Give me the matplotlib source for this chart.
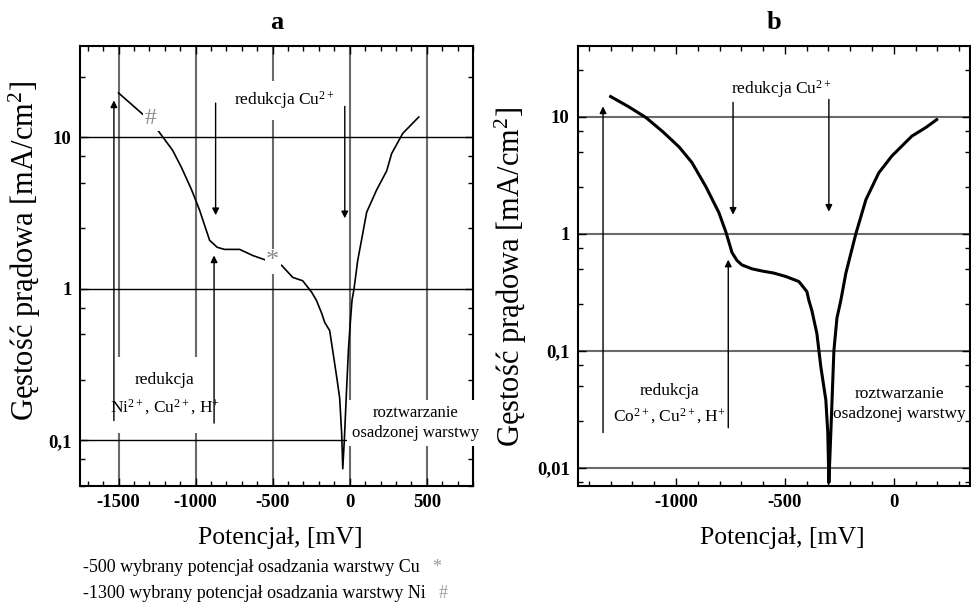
import numpy as np
import matplotlib.pyplot as plt
from matplotlib.ticker import LogLocator, MultipleLocator, FuncFormatter, NullFormatter

plt.rcParams['font.family'] = ['Liberation Serif', 'DejaVu Serif']
plt.rcParams['mathtext.fontset'] = 'custom'
plt.rcParams['mathtext.rm'] = 'Liberation Serif'
plt.rcParams['mathtext.it'] = 'Liberation Serif:italic'
plt.rcParams['mathtext.bf'] = 'Liberation Serif:bold'
plt.rcParams['axes.unicode_minus'] = False

# panel a: Ni/Cu bath (potential [mV], current density [mA/cm2])
pot_a = [-1500, -1350, -1290, -1227, -1149, -1091, -1026, -974, -909, -860, -812,
         -714, -630, -539, -500, -442, -370, -305, -247, -216, -182, -162, -130,
         -110, -84, -65, -52, -45, -35, -20, -8, 5, 15, 28, 52, 84, 110, 175,
         240, 272, 344, 448]
cur_a = [19.6, 14.4, 12.8, 10.5, 8.2, 6.3, 4.5, 3.3, 2.09, 1.88, 1.82,
         1.82, 1.66, 1.54, 1.50, 1.43, 1.19, 1.13, 0.95, 0.84, 0.69, 0.60, 0.53,
         0.39, 0.26, 0.19, 0.11, 0.065, 0.10, 0.22, 0.40, 0.62, 0.84, 1.0, 1.54, 2.3, 3.2, 4.5,
         6.0, 7.8, 10.6, 13.6]

# panel b: Co/Cu bath
pot_b = [-1300, -1220, -1138, -1060, -986, -927, -862, -803, -770, -743, -720, -697,
         -650, -606, -550, -495, -436, -399, -390, -376, -353, -335, -312, -303,
         -298, -289, -275, -261, -243, -220, -174, -128, -69, -9, 83, 147, 197]
cur_b = [14.8, 12.2, 9.8, 7.4, 5.5, 4.05, 2.5, 1.51, 1.02, 0.69, 0.59, 0.54,
         0.50, 0.48, 0.46, 0.43, 0.39, 0.32, 0.27, 0.22, 0.14, 0.073, 0.038, 0.02,
         0.0075, 0.02, 0.1, 0.19, 0.27, 0.46, 1.0, 1.95, 3.3, 4.6, 6.8, 8.05, 9.4]

# arrows: x, tail, tip
arrows_a = [(-1530, 0.135, 17.5), (-880, 0.13, 1.66), (-870, 16.8, 3.06), (-32, 16.0, 2.92)]
arrows_b = [(-1335, 0.02, 12.2), (-760, 0.022, 0.6), (-738, 13.2, 1.45), (-298, 14.0, 1.54)]

star_pt = (-500, 1.52)
hash_pt = (-1290, 13.3)


def comma_fmt(v, pos):
    return ('%g' % v).replace('.', ',')


def style_axes(ax, xlim, ylim):
    ax.set_yscale('log')
    ax.set_xlim(*xlim)
    ax.set_ylim(*ylim)
    ax.xaxis.set_major_locator(MultipleLocator(500))
    ax.xaxis.set_minor_locator(MultipleLocator(100))
    ax.yaxis.set_major_locator(LogLocator(base=10))
    ax.yaxis.set_minor_locator(LogLocator(base=10, subs=[2.5, 5, 7.5]))
    ax.yaxis.set_major_formatter(FuncFormatter(comma_fmt))
    ax.yaxis.set_minor_formatter(NullFormatter())
    ax.tick_params(which='both', direction='in', top=True, right=True, width=1.0)
    ax.tick_params(which='major', length=6, labelsize=13.5, pad=6)
    ax.tick_params(which='minor', length=3.5)
    for lab in ax.get_xticklabels() + ax.get_yticklabels():
        lab.set_fontweight('bold')
    for sp in ax.spines.values():
        sp.set_linewidth(1.5)
    ax.set_axisbelow(True)
    ax.set_xlabel('Potencjał, [mV]', fontsize=18.5)
    ax.set_ylabel('Gęstość prądowa [mA/cm$^2$]', fontsize=22)


def draw_arrows(ax, arrows):
    for x, y0, y1 in arrows:
        ax.annotate('', xy=(x, y1), xytext=(x, y0), zorder=6,
                    arrowprops=dict(arrowstyle='-|>', color='black', lw=1.0,
                                    shrinkA=0, shrinkB=0, mutation_scale=10))


fig = plt.figure(figsize=(9.71, 6.03), dpi=100)
ax_a = fig.add_axes([80 / 971, 1 - 486 / 603, 393 / 971, 440 / 603])
ax_b = fig.add_axes([578 / 971, 1 - 486 / 603, 392 / 971, 440 / 603])

box = dict(facecolor='white', edgecolor='none', boxstyle='square,pad=0.5')

# ---- panel a
style_axes(ax_a, (-1750, 800), (0.05, 40))
ax_a.grid(axis='x', which='major', color='#6a6a6a', lw=1.5)
ax_a.grid(axis='y', which='major', color='black', lw=1.0)
ax_a.plot(pot_a, cur_a, color='black', lw=1.2, zorder=3)
draw_arrows(ax_a, arrows_a)
ax_a.text(-425, 17.5, 'redukcja Cu$^{2+}$', fontsize=12.5, ha='center', va='center',
          bbox=box, zorder=4)
ax_a.text(-1200, 0.2, 'redukcja\nNi$^{2+}$, Cu$^{2+}$, H$^{+}$', fontsize=12.5,
          ha='center', va='center', linespacing=1.6, zorder=4,
          bbox=dict(facecolor='white', edgecolor='none', boxstyle='square,pad=0.9'))
ax_a.text(425, 0.13, 'roztwarzanie\nosadzonej warstwy', fontsize=12, ha='center',
          va='center', linespacing=1.3, zorder=4, clip_on=False,
          bbox=dict(facecolor='white', edgecolor='none', boxstyle='square,pad=0.3'))
ax_a.text(star_pt[0], star_pt[1], '*', fontsize=19, color='#8c8c8c', ha='center',
          va='center', zorder=4,
          bbox=dict(facecolor='white', edgecolor='none', boxstyle='square,pad=0.05'))
ax_a.text(hash_pt[0], hash_pt[1], '#', fontsize=17, color='#8c8c8c', ha='center',
          va='center', zorder=4,
          bbox=dict(facecolor='white', edgecolor='none', boxstyle='square,pad=0.1'))
ax_a.set_title('a', fontsize=19, fontweight='bold', pad=12)
ax_a.yaxis.set_label_coords(-0.094, 0.534)
ax_a.xaxis.set_label_coords(0.509, -0.093)

# ---- panel b
style_axes(ax_b, (-1450, 350), (0.007, 40))
ax_b.grid(axis='y', which='major', color='#6a6a6a', lw=1.5)
ax_b.plot(pot_b, cur_b, color='black', lw=2.2, zorder=3)
draw_arrows(ax_b, arrows_b)
ax_b.text(-518, 17, 'redukcja Cu$^{2+}$', fontsize=12.5, ha='center', va='center', zorder=4)
ax_b.text(-1030, 0.035, 'redukcja\nCo$^{2+}$, Cu$^{2+}$, H$^{+}$', fontsize=12.5,
          ha='center', va='center', linespacing=1.5, zorder=4)
ax_b.text(25, 0.035, 'roztwarzanie\nosadzonej warstwy', fontsize=12.5, ha='center',
          va='center', linespacing=1.3, zorder=4, clip_on=False)
ax_b.set_title('b', fontsize=19, fontweight='bold', pad=12)
ax_b.yaxis.set_label_coords(-0.125, 0.475)
ax_b.xaxis.set_label_coords(0.52, -0.093)

# footnotes
fig.text(83 / 971, 1 - 567 / 603, '-500 wybrany potencjał osadzania warstwy Cu',
         fontsize=13, va='center')
fig.text(437 / 971, 1 - 567 / 603, '*', fontsize=13, color='#999999', va='center', ha='center')
fig.text(83 / 971, 1 - 593 / 603, '-1300 wybrany potencjał osadzania warstwy Ni',
         fontsize=13, va='center')
fig.text(443 / 971, 1 - 593 / 603, '#', fontsize=13, color='#999999', va='center', ha='center')

fig.savefig('out.png', dpi=100)
